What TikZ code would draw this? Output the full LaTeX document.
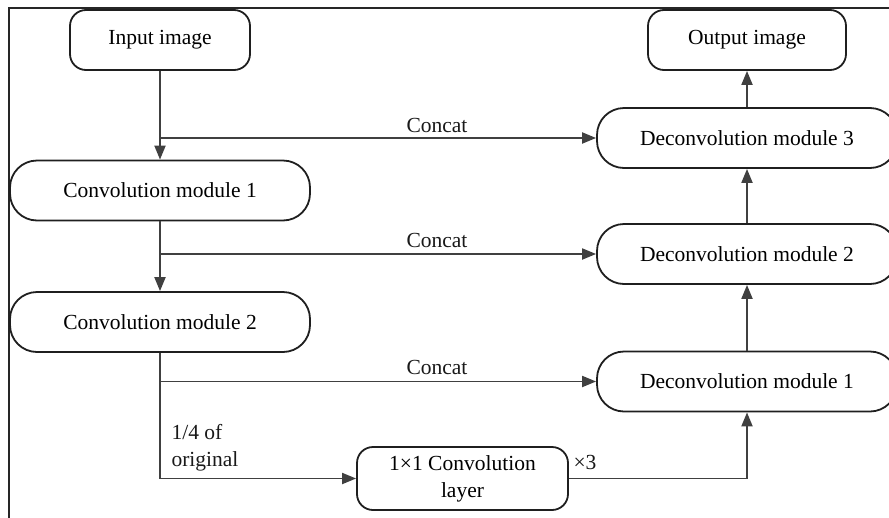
\documentclass[tikz,border=0pt]{standalone}
\usepackage{fontspec}
\setmainfont{Liberation Serif}
\usetikzlibrary{arrows.meta}
\begin{document}
\begin{tikzpicture}[x=1pt,y=-1pt,
  font=\fontsize{21.5}{24}\selectfont,
  conn/.style={draw=black!75,line width=1.9pt},
  arr/.style={conn,-{Triangle[length=14pt,width=11pt]}},
  pill/.style={draw=black!88,line width=1.8pt,rounded corners=27pt,minimum width=300pt,minimum height=60pt,inner sep=0pt},
  term/.style={draw=black!88,line width=1.8pt,rounded corners=16pt,minimum width=180pt,minimum height=60pt,inner sep=0pt},
  lbl/.style={text=black!90,inner sep=0pt}]
\clip (0,0) rectangle (889,517);
% frame
\draw[black!85,line width=1.5pt] (9,530) -- (9,8) -- (900,8);
% encoder side
\node[term] (in) at (160,40) {Input image};
\node[pill] (c1) at (160,190.5) {Convolution module 1};
\node[pill] (c2) at (160,322) {Convolution module 2};
% decoder side
\node[term,minimum width=198pt] (out) at (747,40) {Output image};
\node[pill] (d3) at (747,138) {Deconvolution module 3};
\node[pill] (d2) at (747,254) {Deconvolution module 2};
\node[pill] (d1) at (747,381.5) {Deconvolution module 1};
% bottleneck
\node[draw=black!88,line width=1.8pt,rounded corners=16pt,minimum width=211pt,minimum height=63pt,inner sep=0pt,align=center,font=\fontsize{21.5}{27}\selectfont] (k) at (462.5,478.5) {1×1 Convolution\\layer};
% branch points
\coordinate (b1) at (in.south |- d3.west);
\coordinate (b2) at (c1.south |- d2.west);
\coordinate (b3) at (c2.south |- d1.west);
% main flow
\draw[arr] (in.south) -- (c1.north);
\draw[arr] (c1.south) -- (c2.north);
\draw[arr] (c2.south) |- (k.west);
\draw[arr] (k.east) -| (d1.south);
\draw[arr] (d1.north) -- (d2.south);
\draw[arr] (d2.north) -- (d3.south);
\draw[arr] (d3.north) -- (out.south);
% skip connections
\draw[arr] (b1) -- (d3.west);
\draw[arr] (b2) -- (d2.west);
\draw[arr] (b3) -- (d1.west);
% labels
\node[lbl] (t1) at (437,125) {Concat};
\node[lbl] (t2) at (437,240) {Concat};
\node[lbl] (t3) at (437,367) {Concat};
\node[lbl,align=left,font=\fontsize{21.5}{27}\selectfont] (t4) at (205,448) {1/4 of\\original};
\node[lbl] (t5) at (585,462) {×3};
\end{tikzpicture}
\end{document}
